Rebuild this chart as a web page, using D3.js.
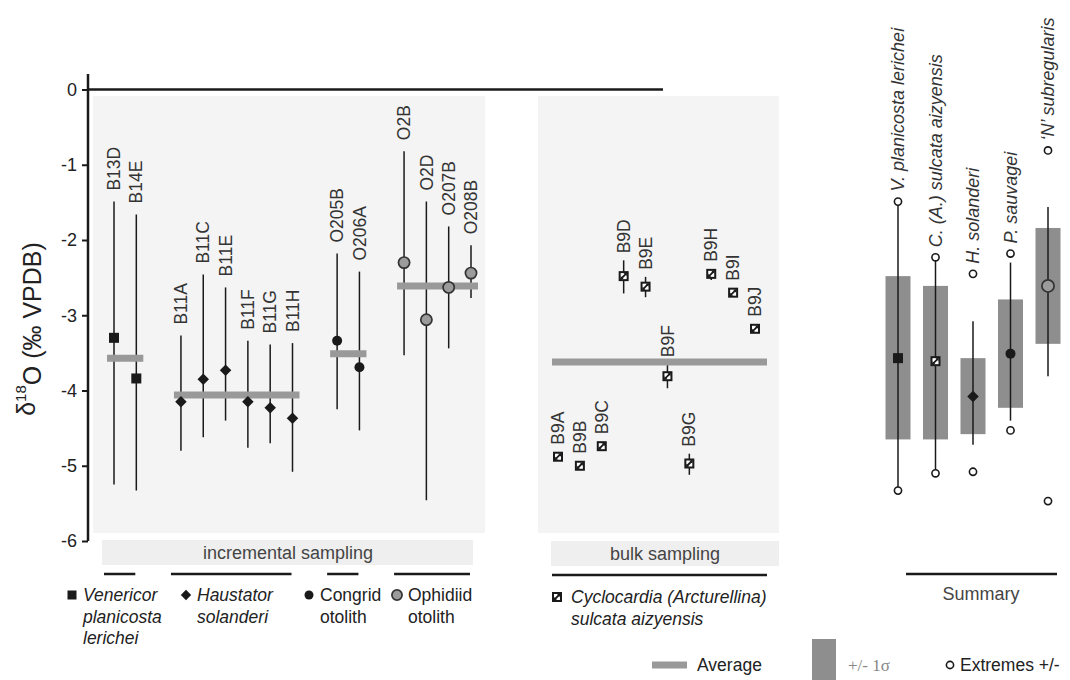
<!DOCTYPE html>
<html>
<head>
<meta charset="utf-8">
<script src="https://cdn.jsdelivr.net/npm/d3@7"></script>
<style>
body { margin: 0; background: #fff; }
text { font-family: "Liberation Sans", Arial, sans-serif; }
</style>
</head>
<body>
<div id="chart"></div>
<script>
// incremental sampling: one entry per specimen (mean, max, min of d18O)
const incIds   = ["B13D","B14E","B11A","B11C","B11E","B11F","B11G","B11H","O205B","O206A","O2B","O2D","O207B","O208B"];
const incGroup = ["V","V","H","H","H","H","H","H","C","C","O","O","O","O"];
const incMean  = [-3.30,-3.84,-4.15,-3.85,-3.73,-4.15,-4.23,-4.37,-3.34,-3.69,-2.30,-3.06,-2.63,-2.44];
const incMax   = [-1.49,-1.66,-3.27,-2.46,-2.63,-3.34,-3.39,-3.37,-2.18,-2.42,-0.82,-1.49,-1.82,-2.07];
const incMin   = [-5.25,-5.33,-4.80,-4.62,-4.40,-4.76,-4.70,-5.08,-4.25,-4.53,-3.53,-5.46,-3.44,-2.77];

const groups      = ["V","H","C","O"];
const groupAvg    = [-3.57,-4.06,-3.51,-2.61];
const groupMarker = ["square","diamond","dot","gray"];
const groupLegend = [["Venericor","planicosta","lerichei"],["Haustator","solanderi"],["Congrid","otolith"],["Ophidiid","otolith"]];
const groupItalic = [true,true,false,false];

// bulk sampling (Cyclocardia)
const bulkIds  = ["B9A","B9B","B9C","B9D","B9E","B9F","B9G","B9H","B9I","B9J"];
const bulkMean = [-4.88,-5.00,-4.74,-2.48,-2.62,-3.81,-4.97,-2.45,-2.70,-3.18];
const bulkMax  = [-4.88,-5.00,-4.74,-2.27,-2.49,-3.65,-4.84,-2.39,-2.70,-3.18];
const bulkMin  = [-4.88,-5.00,-4.74,-2.71,-2.76,-3.97,-5.12,-2.53,-2.70,-3.18];
const bulkAvg  = -3.62;

// summary per taxon
const sumNames  = ["V. planicosta lerichei","C. (A.) sulcata aizyensis","H. solanderi","P. sauvagei","\u2018N\u2019 subregularis"];
const sumMarker = ["square","bulk","diamond","dot","gray"];
const sumMean   = [-3.57,-3.61,-4.08,-3.51,-2.61];
const sdHigh    = [-2.48,-2.61,-3.57,-2.79,-1.84];
const sdLow     = [-4.65,-4.65,-4.58,-4.23,-3.38];
const whiskHigh = [-1.49,-2.23,-3.08,-2.30,-1.56];
const whiskLow  = [-5.33,-5.10,-4.72,-4.40,-3.81];
const extHigh   = [-1.49,-2.23,-2.45,-2.18,-0.81];
const extLow    = [-5.33,-5.10,-5.08,-4.53,-5.47];

const yTicks = [0,-1,-2,-3,-4,-5,-6];

const W = 1070, H = 680;
const GRAY = "#999", BAR = "#8e8e8e", INK = "#1a1a1a";

const svg = d3.select("#chart").append("svg")
  .attr("width", W).attr("height", H);

const y = d3.scaleLinear().domain([0, -6]).range([89.5, 541]);

// x for incremental: one slot per specimen, with an empty slot between groups
const incDomain = [];
groups.forEach((g, gi) => {
  if (gi) incDomain.push("gap" + gi);
  incIds.forEach((id, i) => { if (incGroup[i] === g) incDomain.push(id); });
});
const xInc  = d3.scalePoint().domain(incDomain).range([114, 471]);
const xBulk = d3.scalePoint().domain(bulkIds).range([558, 755]);
const xSum  = d3.scalePoint().domain(sumNames).range([898, 1048]);

function marker(sel, type, s) {
  const h = s / 2;
  if (type === "square") {
    sel.append("rect").attr("x", -h).attr("y", -h).attr("width", s).attr("height", s).attr("fill", INK);
  } else if (type === "diamond") {
    const d = h * 1.15;
    sel.append("path").attr("d", `M0,${-d}L${d},0L0,${d}L${-d},0Z`).attr("fill", INK);
  } else if (type === "dot") {
    sel.append("circle").attr("r", h).attr("fill", INK);
  } else if (type === "gray") {
    sel.append("circle").attr("r", h + 0.6).attr("fill", "#9b9b9b").attr("stroke", "#333").attr("stroke-width", 1.7);
  } else if (type === "bulk") {
    sel.append("rect").attr("x", -h).attr("y", -h).attr("width", s).attr("height", s).attr("fill", INK);
    sel.append("rect").attr("x", -h + 2).attr("y", -h + 2).attr("width", s - 4).attr("height", s - 4).attr("fill", "#fff");
    sel.append("path").attr("d", `M${-h + 2},${h - 2}L${h - 2},${-h + 2}`).attr("stroke", INK).attr("stroke-width", 1.8);
    sel.append("path").attr("d", `M${-h + 2},${h - 2}l3,0l-3,-3Z M${h - 2},${-h + 2}l-3,0l3,3Z`).attr("fill", INK);
  }
}

function vLabel(x, yb, txt, opt) {
  opt = opt || {};
  return svg.append("text")
    .attr("transform", `translate(${x},${yb}) rotate(-90)`)
    .attr("dy", "0.35em")
    .attr("font-size", opt.size || 17.5)
    .attr("font-style", opt.italic ? "italic" : null)
    .attr("fill", "#333")
    .text(txt);
}

// panel backgrounds
svg.append("rect").attr("x", 93).attr("y", 96).attr("width", 392).attr("height", 437).attr("fill", "#f4f4f4");
svg.append("rect").attr("x", 538).attr("y", 96).attr("width", 241).attr("height", 437).attr("fill", "#f4f4f4");

// axis
const axis = svg.append("g").attr("transform", "translate(88,0)")
  .call(d3.axisLeft(y).tickValues(yTicks).tickFormat(d => String(d)).tickSize(6).tickPadding(5));
axis.select(".domain").remove();
axis.selectAll("line").attr("stroke", INK).attr("stroke-width", 2);
axis.selectAll("text").attr("font-size", 18).attr("fill", "#222")
  .style("font-family", '"Liberation Sans", Arial, sans-serif');
svg.append("line").attr("x1", 88).attr("x2", 88).attr("y1", 74).attr("y2", y(-6))
  .attr("stroke", INK).attr("stroke-width", 2.5);
svg.append("line").attr("x1", 88).attr("x2", 663).attr("y1", y(0)).attr("y2", y(0))
  .attr("stroke", INK).attr("stroke-width", 2.5);

const yTitle = svg.append("text")
  .attr("transform", "translate(26,329) rotate(-90)")
  .attr("text-anchor", "middle").attr("dy", "0.35em")
  .attr("font-size", 25).attr("fill", "#222");
yTitle.append("tspan").text("\u03b4");
yTitle.append("tspan").attr("font-size", 15).attr("dy", "-0.6em").text("18");
yTitle.append("tspan").attr("dy", "0.6em").text("O (\u2030 VPDB)");

// ---- incremental sampling ----
const incIdx = d3.range(incIds.length);
svg.append("g").selectAll("line").data(incIdx).join("line")
  .attr("x1", i => xInc(incIds[i])).attr("x2", i => xInc(incIds[i]))
  .attr("y1", i => y(incMax[i])).attr("y2", i => y(incMin[i]))
  .attr("stroke", INK).attr("stroke-width", 1.5);

groups.forEach((g, gi) => {
  const ids = incIds.filter((id, i) => incGroup[i] === g);
  svg.append("line")
    .attr("x1", xInc(ids[0]) - 7).attr("x2", xInc(ids[ids.length - 1]) + 7)
    .attr("y1", y(groupAvg[gi])).attr("y2", y(groupAvg[gi]))
    .attr("stroke", GRAY).attr("stroke-width", 7);
});

svg.append("g").selectAll("g").data(incIdx).join("g")
  .attr("transform", i => `translate(${xInc(incIds[i])},${y(incMean[i])})`)
  .each(function (i) {
    marker(d3.select(this), groupMarker[groups.indexOf(incGroup[i])], 10);
  });

incIdx.forEach(i => vLabel(xInc(incIds[i]), y(incMax[i]) - 11, incIds[i]));

// ---- bulk sampling ----
const bulkIdx = d3.range(bulkIds.length);
svg.append("g").selectAll("line").data(bulkIdx).join("line")
  .attr("x1", i => xBulk(bulkIds[i])).attr("x2", i => xBulk(bulkIds[i]))
  .attr("y1", i => y(bulkMax[i])).attr("y2", i => y(bulkMin[i]))
  .attr("stroke", INK).attr("stroke-width", 1.5);
svg.append("line")
  .attr("x1", xBulk(bulkIds[0]) - 6).attr("x2", xBulk(bulkIds[bulkIds.length - 1]) + 12)
  .attr("y1", y(bulkAvg)).attr("y2", y(bulkAvg))
  .attr("stroke", GRAY).attr("stroke-width", 7);
svg.append("g").selectAll("g").data(bulkIdx).join("g")
  .attr("transform", i => `translate(${xBulk(bulkIds[i])},${y(bulkMean[i])})`)
  .each(function () { marker(d3.select(this), "bulk", 10); });
bulkIdx.forEach(i => vLabel(xBulk(bulkIds[i]), Math.min(y(bulkMax[i]), y(bulkMean[i]) - 5) - 7, bulkIds[i]));

// ---- summary ----
const sumIdx = d3.range(sumNames.length);
svg.append("g").selectAll("rect").data(sumIdx).join("rect")
  .attr("x", i => xSum(sumNames[i]) - 12.5).attr("width", 25)
  .attr("y", i => y(sdHigh[i])).attr("height", i => y(sdLow[i]) - y(sdHigh[i]))
  .attr("fill", BAR);
svg.append("g").selectAll("line").data(sumIdx).join("line")
  .attr("x1", i => xSum(sumNames[i])).attr("x2", i => xSum(sumNames[i]))
  .attr("y1", i => y(whiskHigh[i])).attr("y2", i => y(whiskLow[i]))
  .attr("stroke", INK).attr("stroke-width", 1.5);
const ext = svg.append("g");
sumIdx.forEach(i => {
  [extHigh[i], extLow[i]].forEach(v => {
    ext.append("circle").attr("cx", xSum(sumNames[i])).attr("cy", y(v)).attr("r", 3.6)
      .attr("fill", "#fff").attr("stroke", INK).attr("stroke-width", 1.6);
  });
});
svg.append("g").selectAll("g").data(sumIdx).join("g")
  .attr("transform", i => `translate(${xSum(sumNames[i])},${y(sumMean[i])})`)
  .each(function (i) { marker(d3.select(this), sumMarker[i], sumMarker[i] === "gray" ? 11 : 10); });
sumIdx.forEach(i => vLabel(xSum(sumNames[i]), y(extHigh[i]) - 10, sumNames[i], { italic: true, size: 18 }));

// ---- sampling boxes, group rules, legends ----
svg.append("rect").attr("x", 102).attr("y", 540).attr("width", 371).attr("height", 25).attr("fill", "#efefef");
svg.append("text").attr("x", 288).attr("y", 553).attr("dy", "0.35em").attr("text-anchor", "middle")
  .attr("font-size", 18).attr("fill", "#444").text("incremental sampling");
svg.append("rect").attr("x", 551).attr("y", 541).attr("width", 228).attr("height", 25).attr("fill", "#efefef");
svg.append("text").attr("x", 665).attr("y", 554).attr("dy", "0.35em").attr("text-anchor", "middle")
  .attr("font-size", 18).attr("fill", "#444").text("bulk sampling");

const ruleY = 574;
groups.forEach((g, gi) => {
  const ids = incIds.filter((id, i) => incGroup[i] === g);
  svg.append("line")
    .attr("x1", xInc(ids[0]) - 10).attr("x2", xInc(ids[ids.length - 1]) - 1)
    .attr("y1", ruleY).attr("y2", ruleY).attr("stroke", INK).attr("stroke-width", 2.5);
});
svg.append("line").attr("x1", xBulk(bulkIds[0]) - 6).attr("x2", xBulk(bulkIds[bulkIds.length - 1]) + 12)
  .attr("y1", ruleY + 1).attr("y2", ruleY + 1).attr("stroke", INK).attr("stroke-width", 2.5);
svg.append("line").attr("x1", 906).attr("x2", 1057)
  .attr("y1", ruleY).attr("y2", ruleY).attr("stroke", INK).attr("stroke-width", 2.5);
svg.append("text").attr("x", 981).attr("y", 594).attr("dy", "0.35em").attr("text-anchor", "middle")
  .attr("font-size", 18).attr("fill", "#444").text("Summary");

// species legend under each group
const legX = [72, 186, 309, 397];
groups.forEach((g, gi) => {
  const lg = svg.append("g").attr("transform", `translate(${legX[gi]},595)`);
  marker(lg, groupMarker[gi], 9);
  groupLegend[gi].forEach((t, k) => {
    lg.append("text").attr("x", 11).attr("y", k * 21.5).attr("dy", "0.35em")
      .attr("font-size", 17.5).attr("fill", "#222")
      .attr("font-style", groupItalic[gi] ? "italic" : null).text(t);
  });
});
const lb = svg.append("g").attr("transform", "translate(557,597)");
marker(lb, "bulk", 10);
["Cyclocardia (Arcturellina)", "sulcata aizyensis"].forEach((t, k) => {
  lb.append("text").attr("x", 14).attr("y", k * 22).attr("dy", "0.35em")
    .attr("font-size", 17.5).attr("fill", "#222").attr("font-style", "italic").text(t);
});

// bottom key
svg.append("line").attr("x1", 652).attr("x2", 687).attr("y1", 665).attr("y2", 665)
  .attr("stroke", GRAY).attr("stroke-width", 7);
svg.append("text").attr("x", 697).attr("y", 665).attr("dy", "0.35em")
  .attr("font-size", 17.5).attr("fill", "#222").text("Average");
svg.append("rect").attr("x", 812).attr("y", 639).attr("width", 24).attr("height", 41).attr("fill", BAR);
svg.append("text").attr("x", 848).attr("y", 665).attr("dy", "0.35em")
  .attr("font-size", 17).attr("fill", "#888")
  .style("font-family", '"Liberation Serif", "DejaVu Serif", serif').text("+/- 1\u03c3");
svg.append("circle").attr("cx", 950).attr("cy", 665).attr("r", 3.6)
  .attr("fill", "#fff").attr("stroke", INK).attr("stroke-width", 1.6);
svg.append("text").attr("x", 960).attr("y", 665).attr("dy", "0.35em")
  .attr("font-size", 17.5).attr("fill", "#222").text("Extremes +/-");
</script>
</body>
</html>
